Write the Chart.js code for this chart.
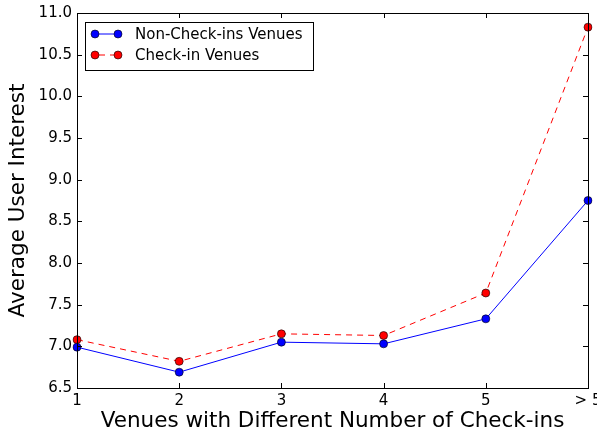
<!DOCTYPE html>
<html>
<head>
<meta charset="utf-8">
<script src="https://cdn.jsdelivr.net/npm/chart.js@4/dist/chart.umd.min.js"></script>
<style>
  html, body { margin: 0; padding: 0; background: #fff; }
  #wrap { width: 597px; height: 435px; position: relative; }
</style>
</head>
<body>
<div id="wrap"><canvas id="c" width="597" height="435"></canvas></div>
<script>
// Venue buckets by number of check-ins
const categories = ['1', '2', '3', '4', '5', '> 5'];

// Average user interest per bucket
const nonCheckinVenues = [6.99, 6.69, 7.05, 7.03, 7.33, 8.75];
const checkinVenues    = [7.08, 6.82, 7.15, 7.13, 7.64, 10.83];

// Y axis range and step
const yMin = 6.5, yMax = 11.0, yStep = 0.5;

const FONT = "'DejaVu Sans', sans-serif";
const TICK_LEN = 5;

// Frame around the plot area with inward-pointing ticks on all four sides,
// plus a boxed legend with a two-marker line sample per series.
const framePlugin = {
  id: 'frame',
  afterDatasetsDraw(chart) {
    const { ctx, chartArea: a, scales } = chart;
    ctx.save();
    ctx.strokeStyle = '#000';
    ctx.lineWidth = 1;
    ctx.strokeRect(Math.round(a.left) + 0.5, Math.round(a.top) + 0.5,
                   Math.round(a.right - a.left), Math.round(a.bottom - a.top));
    ctx.beginPath();
    scales.x.ticks.forEach((t, i) => {
      const x = Math.round(scales.x.getPixelForTick(i)) + 0.5;
      ctx.moveTo(x, a.bottom); ctx.lineTo(x, a.bottom - TICK_LEN);
      ctx.moveTo(x, a.top);    ctx.lineTo(x, a.top + TICK_LEN);
    });
    scales.y.ticks.forEach((t) => {
      const y = Math.round(scales.y.getPixelForValue(t.value)) + 0.5;
      ctx.moveTo(a.left, y);  ctx.lineTo(a.left + TICK_LEN, y);
      ctx.moveTo(a.right, y); ctx.lineTo(a.right - TICK_LEN, y);
    });
    ctx.stroke();

    // legend
    const lx = 85.5, ly = 22.5, lw = 228, lh = 48;
    ctx.fillStyle = '#fff';
    ctx.fillRect(lx, ly, lw, lh);
    ctx.strokeRect(lx, ly, lw, lh);
    ctx.font = '15px ' + FONT;
    ctx.textBaseline = 'middle';
    ctx.textAlign = 'left';
    chart.data.datasets.forEach((ds, i) => {
      const y = 34 + i * 21;
      ctx.save();
      ctx.strokeStyle = ds.borderColor;
      ctx.lineWidth = ds.borderWidth;
      ctx.setLineDash(ds.borderDash || []);
      if (ds.borderDash) ctx.lineDashOffset = -4;
      ctx.beginPath();
      ctx.moveTo(95, y); ctx.lineTo(118, y);
      ctx.stroke();
      ctx.setLineDash([]);
      [95, 118].forEach(px => {
        ctx.beginPath();
        ctx.arc(px, y, ds.pointRadius, 0, Math.PI * 2);
        ctx.fillStyle = ds.pointBackgroundColor;
        ctx.fill();
        ctx.strokeStyle = ds.pointBorderColor;
        ctx.lineWidth = ds.pointBorderWidth;
        ctx.stroke();
      });
      ctx.restore();
      ctx.fillStyle = '#000';
      ctx.fillText(ds.label, 135, y + 1);
    });
    ctx.restore();
  }
};

new Chart(document.getElementById('c'), {
  type: 'line',
  data: {
    labels: categories,
    datasets: [
      {
        label: 'Non-Check-ins Venues',
        data: nonCheckinVenues,
        borderColor: '#0000ff',
        borderWidth: 1,
        pointRadius: 4,
        pointBackgroundColor: '#0000ff',
        pointBorderColor: '#000',
        pointBorderWidth: 0.6,
        tension: 0
      },
      {
        label: 'Check-in Venues',
        data: checkinVenues,
        borderColor: '#ff0000',
        borderWidth: 1,
        borderDash: [6, 5],
        pointRadius: 4,
        pointBackgroundColor: '#ff0000',
        pointBorderColor: '#000',
        pointBorderWidth: 0.6,
        tension: 0
      }
    ]
  },
  options: {
    responsive: false,
    animation: false,
    devicePixelRatio: 1,
    layout: { padding: { top: 13, right: 9, left: 0, bottom: 0 } },
    plugins: { legend: { display: false }, tooltip: { enabled: false } },
    scales: {
      x: {
        type: 'category',
        offset: false,
        grid: { display: false, drawTicks: false },
        border: { display: false },
        ticks: {
          color: '#000', font: { family: FONT, size: 15 },
          padding: 4, maxRotation: 0, autoSkip: false
        },
        title: {
          display: true, text: 'Venues with Different Number of Check-ins',
          color: '#000', font: { family: FONT, size: 21.5 },
          padding: { top: 0, bottom: 1 }
        },
        afterFit(s) { s.height = 47; s.paddingLeft = 0; s.paddingRight = 0; }
      },
      y: {
        min: yMin, max: yMax,
        grid: { display: false, drawTicks: false },
        border: { display: false },
        ticks: {
          stepSize: yStep, color: '#000', font: { family: FONT, size: 15 },
          padding: 5,
          callback: v => Number(v).toFixed(1)
        },
        title: {
          display: true, text: 'Average User Interest',
          color: '#000', font: { family: FONT, size: 21.5 },
          padding: { top: 6, bottom: 0 }
        },
        afterFit(s) { s.width = 77; s.paddingTop = 0; s.paddingBottom = 0; }
      }
    }
  },
  plugins: [framePlugin]
});
</script>
</body>
</html>
